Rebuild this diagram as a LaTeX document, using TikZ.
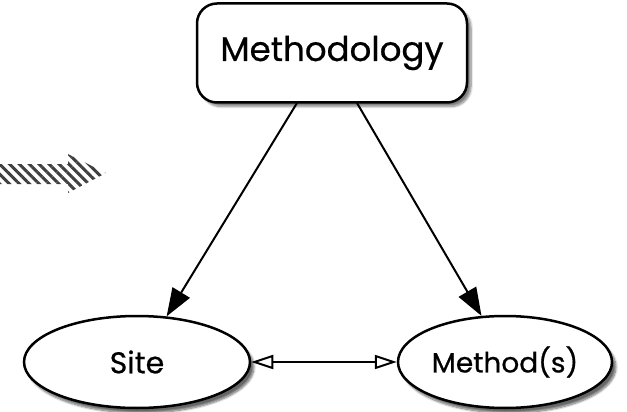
\documentclass[tikz,border=0pt]{standalone}
\usepackage{fontspec}
\setmainfont{Poppins}[FakeBold=0.6]
\usetikzlibrary{arrows.meta,shapes.geometric,shadows.blur,patterns.meta}
\tikzset{
  boxnode/.style={draw=black, line width=2.5pt, fill=white, rounded corners=20pt,
    blur shadow={shadow xshift=4pt, shadow yshift=-4pt, shadow blur steps=8, shadow opacity=50}},
  ellnode/.style={ellipse, draw=black, line width=2.5pt, fill=white, inner sep=0pt,
    blur shadow={shadow xshift=4pt, shadow yshift=-5pt, shadow blur steps=8, shadow opacity=60}},
  mainarrow/.style={line width=2pt, -{Triangle[length=28pt,width=20pt]}},
  openarrow/.style={line width=2pt, {Triangle[open,length=22pt,width=14pt]}-{Triangle[open,length=22pt,width=14pt]}},
}
\begin{document}
\begin{tikzpicture}[x=1pt,y=-1pt]
\useasboundingbox (0,0) rectangle (627,412);
\node[boxnode, minimum width=270pt, minimum height=99pt] (m) at (332,53) {\fontsize{34}{38}\selectfont Methodology};
\node[ellnode, minimum width=226pt, minimum height=92pt] (s) at (137,362) {\fontsize{30}{34}\selectfont Site};
\node[ellnode, minimum width=214pt, minimum height=92pt] (t) at (505,362) {\fontsize{28}{32}\selectfont Method(s)};
\coordinate (ml) at (297,103);
\coordinate (mr) at (357,103);
\draw[mainarrow] (ml) -- (s.57);
\draw[mainarrow] (mr) -- (t.117);
\draw[openarrow] (s.east) -- (t.west);
\path[fill=white, pattern={Lines[angle=-45, distance=7pt, line width=3pt]}, pattern color=black!75]
  (0,164) -- (68,164) -- (68,154) -- (106,173) -- (68,193) -- (68,184) -- (0,184) -- cycle;
\end{tikzpicture}
\end{document}
